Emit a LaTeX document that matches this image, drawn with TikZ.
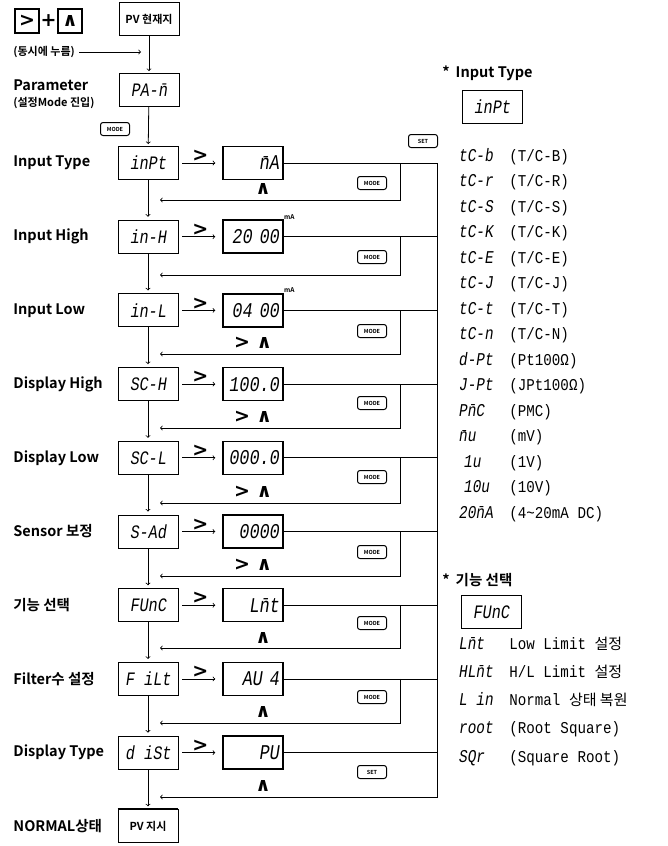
\documentclass[tikz,border=0pt]{standalone}
\usepackage{fontspec}
\setmainfont{Noto Sans CJK KR}[BoldFont={Noto Sans CJK KR Bold}]
\newfontfamily\krfont{Noto Sans CJK KR}
\newfontfamily\segfont{Liberation Mono}[FakeStretch=0.8,FakeSlant=0.15]
\newfontfamily\listfont{Liberation Mono}[FakeStretch=0.86]
\newfontfamily\keyfont{DejaVu Sans}
\usetikzlibrary{positioning,calc}
\newcommand{\mbar}{\=n}
\newcommand{\code}[1]{\makebox[51pt][l]{\segfont\fontsize{18}{18}\selectfont #1}}
\newcommand{\kr}[1]{{\krfont\fontsize{15}{15}\selectfont #1}}
\tikzset{
lcd/.style = {draw, line width=0.9pt, minimum width=60pt, minimum height=33pt, inner sep=3pt, font=\segfont\fontsize{19}{19}\selectfont},
disp/.style = {lcd, line width=1.5pt, text width=52pt, inner sep=4pt, align=right, font=\segfont\fontsize{21}{21}\selectfont},
btn/.style = {draw, rounded corners=2.5pt, line width=1pt, minimum width=29pt, minimum height=13pt, inner sep=0pt, font=\bfseries\fontsize{5.5}{6}\selectfont},
lbl/.style = {anchor=west, inner sep=0pt, font=\bfseries\fontsize{14.5}{15}\selectfont},
note/.style = {anchor=west, inner sep=0pt, font=\bfseries\fontsize{11}{11}\selectfont},
key/.style = {inner sep=0pt, font=\keyfont\bfseries\fontsize{19}{19}\selectfont},
keybox/.style = {key, draw, line width=1.4pt, minimum size=24pt},
item/.style = {anchor=west, inner sep=0pt, font=\listfont\fontsize{16.5}{17}\selectfont},
tmp/.style = {coordinate}
}

\begin{document}
\begin{tikzpicture}[x=1pt, y=-1pt, >=to, line width=0.8pt, node distance=73.7pt]
\useasboundingbox (0,0) rectangle (668,846);

% keys pressed together
\node [keybox] (kright) at (27,21) {>};
\node [key] (plus) at (48.5,21) {+};
\node [keybox] (kup) at (70,21) {∧};
\node [note] (both) at (13,52) {(동시에 누름)};

% parameter mode
\node [lcd, font=\bfseries\fontsize{11}{11}\selectfont] (pvnow) at (149,19) {PV 현재지};
\node [lcd] (param) at (149,90) {PA-\mbar};
\node [lbl] (lparam) at (13,85) {Parameter};
\node [note] (lmode) at (13,103) {(설정Mode 진입)};
\node [btn] (mode0) at (115,129) {MODE};
\node [btn] (set0) at (423,141) {SET};
\node [tmp] (join) at (149,52) {};
\draw [->, shorten <=4pt, shorten >=8pt] (both) -- (join);
\draw [->, shorten >=2pt] (pvnow) -- (param);

% left column
\node [tmp] (lefted) at (13,0) {};
\node [lcd] (inpt) at (148,163) {inPt};
\node [lcd, below of=inpt] (inh) {in-H};
\node [lcd, below of=inh] (inl) {in-L};
\node [lcd, below of=inl] (sch) {SC-H};
\node [lcd, below of=sch] (scl) {SC-L};
\node [lcd, below of=scl] (sad) {S-Ad};
\node [lcd, below of=sad] (func) {FUnC};
\node [lcd, below of=func] (filt) {F iLt};
\node [lcd, below of=filt] (dist) {d iSt};
\node [lcd, below of=dist, font=\bfseries\fontsize{11}{11}\selectfont] (pvind) {PV 지시};
\draw [line width=2pt] (pvind.north west) -- (pvind.north east);

\node [lbl] at (lefted |- inpt) {Input Type};
\node [lbl] at (lefted |- inh) {Input High};
\node [lbl] at (lefted |- inl) {Input Low};
\node [lbl] at (lefted |- sch) {Display High};
\node [lbl] at (lefted |- scl) {Display Low};
\node [lbl] at (lefted |- sad) {Sensor 보정};
\node [lbl] at (lefted |- func) {기능 선택};
\node [lbl] at (lefted |- filt) {Filter수 설정};
\node [lbl] at (lefted |- dist) {Display Type};
\node [lbl] at (lefted |- pvind) {NORMAL상태};

% values
\node [disp, right of=inpt, node distance=105pt] (vtype) {\mbar A};
\node [disp, right of=inh, node distance=105pt] (vhigh) {20 00};
\node [disp, right of=inl, node distance=105pt] (vlow) {04 00};
\node [disp, right of=sch, node distance=105pt] (vdh) {100.0};
\node [disp, right of=scl, node distance=105pt] (vdl) {000.0};
\node [disp, right of=sad, node distance=105pt] (vsen) {0000};
\node [disp, right of=func, node distance=105pt] (vfun) {L\mbar t};
\node [disp, right of=filt, node distance=105pt] (vfil) {AU 4};
\node [disp, right of=dist, node distance=105pt] (vdis) {PU};
\node [anchor=south west, inner sep=0pt, font=\bfseries\fontsize{6.5}{7}\selectfont] at (vhigh.north east) {mA};
\node [anchor=south west, inner sep=0pt, font=\bfseries\fontsize{6.5}{7}\selectfont] at (vlow.north east) {mA};

% down the left column
\draw [->, shorten >=2pt] (param) -- (inpt);
\draw [->, shorten >=3pt] (inpt) -- (inh);
\draw [->, shorten >=3pt] (inh) -- (inl);
\draw [->, shorten >=3pt] (inl) -- (sch);
\draw [->, shorten >=3pt] (sch) -- (scl);
\draw [->, shorten >=3pt] (scl) -- (sad);
\draw [->, shorten >=3pt] (sad) -- (func);
\draw [->, shorten >=3pt] (func) -- (filt);
\draw [->, shorten >=3pt] (filt) -- (dist);
\draw [->, shorten >=3pt] (dist) -- (pvind);

% shift key
\draw [->, shorten <=4pt, shorten >=7pt] (inpt) -- node [key, above=1pt] {>} (vtype);
\draw [->, shorten <=4pt, shorten >=7pt] (inh) -- node [key, above=1pt] {>} (vhigh);
\draw [->, shorten <=4pt, shorten >=7pt] (inl) -- node [key, above=1pt] {>} (vlow);
\draw [->, shorten <=4pt, shorten >=7pt] (sch) -- node [key, above=1pt] {>} (vdh);
\draw [->, shorten <=4pt, shorten >=7pt] (scl) -- node [key, above=1pt] {>} (vdl);
\draw [->, shorten <=4pt, shorten >=7pt] (sad) -- node [key, above=1pt] {>} (vsen);
\draw [->, shorten <=4pt, shorten >=7pt] (func) -- node [key, above=1pt] {>} (vfun);
\draw [->, shorten <=4pt, shorten >=7pt] (filt) -- node [key, above=1pt] {>} (vfil);
\draw [->, shorten <=4pt, shorten >=7pt] (dist) -- node [key, above=1pt] {>} (vdis);

% return lines
\node [tmp] (bus) at (437,0) {};
\node [tmp] (tap) at (400,0) {};
\node [tmp] (back1) at (160,200) {};
\node [tmp] (back2) at (160,275) {};
\node [tmp] (back3) at (160,354) {};
\node [tmp] (back4) at (160,428) {};
\node [tmp] (back5) at (160,503) {};
\node [tmp] (back6) at (160,576) {};
\node [tmp] (back7) at (160,648) {};
\node [tmp] (back8) at (160,723) {};
\node [tmp] (back9) at (160,797) {};

\draw (vtype) -- (vtype -| bus);
\draw (vhigh) -- (vhigh -| bus);
\draw (vlow) -- (vlow -| bus);
\draw (vdh) -- (vdh -| bus);
\draw (vdl) -- (vdl -| bus);
\draw (vsen) -- (vsen -| bus);
\draw (vfun) -- (vfun -| bus);
\draw (vfil) -- (vfil -| bus);
\draw (vdis) -- (vdis -| bus);
\draw [->] (vtype -| bus) |- (back9);

\draw [->] (vtype -| tap) |- (back1);
\draw [->] (vhigh -| tap) |- (back2);
\draw [->] (vlow -| tap) |- (back3);
\draw [->] (vdh -| tap) |- (back4);
\draw [->] (vdl -| tap) |- (back5);
\draw [->] (vsen -| tap) |- (back6);
\draw [->] (vfun -| tap) |- (back7);
\draw [->] (vfil -| tap) |- (back8);

\node [btn] (mode1) at (372,183) {MODE};
\node [btn] (mode2) at (372,257) {MODE};
\node [btn] (mode3) at (372,331) {MODE};
\node [btn] (mode4) at (372,403) {MODE};
\node [btn] (mode5) at (372,477) {MODE};
\node [btn] (mode6) at (372,552) {MODE};
\node [btn] (mode7) at (372,623) {MODE};
\node [btn] (mode8) at (372,697) {MODE};
\node [btn] (set9) at (372,772) {SET};

\node [key] (up1) at (263,189) {∧};
\node [key] (up3) at (253,343) {> ∧};
\node [key] (up4) at (253,417) {> ∧};
\node [key] (up5) at (253,492) {> ∧};
\node [key] (up6) at (253,565) {> ∧};
\node [key] (up7) at (263,638) {∧};
\node [key] (up8) at (263,712) {∧};
\node [key] (up9) at (263,786) {∧};

% input type list
\node [anchor=west, inner sep=0pt, font=\bfseries\fontsize{14.5}{15}\selectfont] (hdtype) at (442,73) {*\hspace{6pt}Input Type};
\node [lcd] (typebox) at (492,107) {inPt};
\node [item] (t1) at (458,157) {\code{tC-b}(T/C-B)};
\node [item] (t2) at (458,182.5) {\code{tC-r}(T/C-R)};
\node [item] (t3) at (458,208) {\code{tC-S}(T/C-S)};
\node [item] (t4) at (458,233.5) {\code{tC-K}(T/C-K)};
\node [item] (t5) at (458,259) {\code{tC-E}(T/C-E)};
\node [item] (t6) at (458,284.5) {\code{tC-J}(T/C-J)};
\node [item] (t7) at (458,310) {\code{tC-t}(T/C-T)};
\node [item] (t8) at (458,335.5) {\code{tC-n}(T/C-N)};
\node [item] (t9) at (458,361) {\code{d-Pt}(Pt100Ω)};
\node [item] (t10) at (458,386.5) {\code{J-Pt}(JPt100Ω)};
\node [item] (t11) at (458,412) {\code{P\mbar C}(PMC)};
\node [item] (t12) at (458,437.5) {\code{\mbar u}(mV)};
\node [item] (t13) at (458,463) {\code{\hspace{5pt}1u}(1V)};
\node [item] (t14) at (458,488.5) {\code{\hspace{5pt}10u}(10V)};
\node [item] (t15) at (458,514) {\code{20\mbar A}(4\textasciitilde20mA DC)};

% function list
\node [anchor=west, inner sep=0pt, font=\bfseries\fontsize{14.5}{15}\selectfont] (hdfunc) at (442,580) {*\hspace{6pt}기능 선택};
\node [lcd] (funcbox) at (491,612) {FUnC};
\node [item] (f1) at (458,644) {\code{L\mbar t}Low Limit \kr{설정}};
\node [item] (f2) at (458,672) {\code{HL\mbar t}H/L Limit \kr{설정}};
\node [item] (f3) at (458,700) {\code{L in}Normal \kr{상태 복원}};
\node [item] (f4) at (458,729) {\code{root}(Root Square)};
\node [item] (f5) at (458,758) {\code{SQr}(Square Root)};
\end{tikzpicture}
\end{document}
